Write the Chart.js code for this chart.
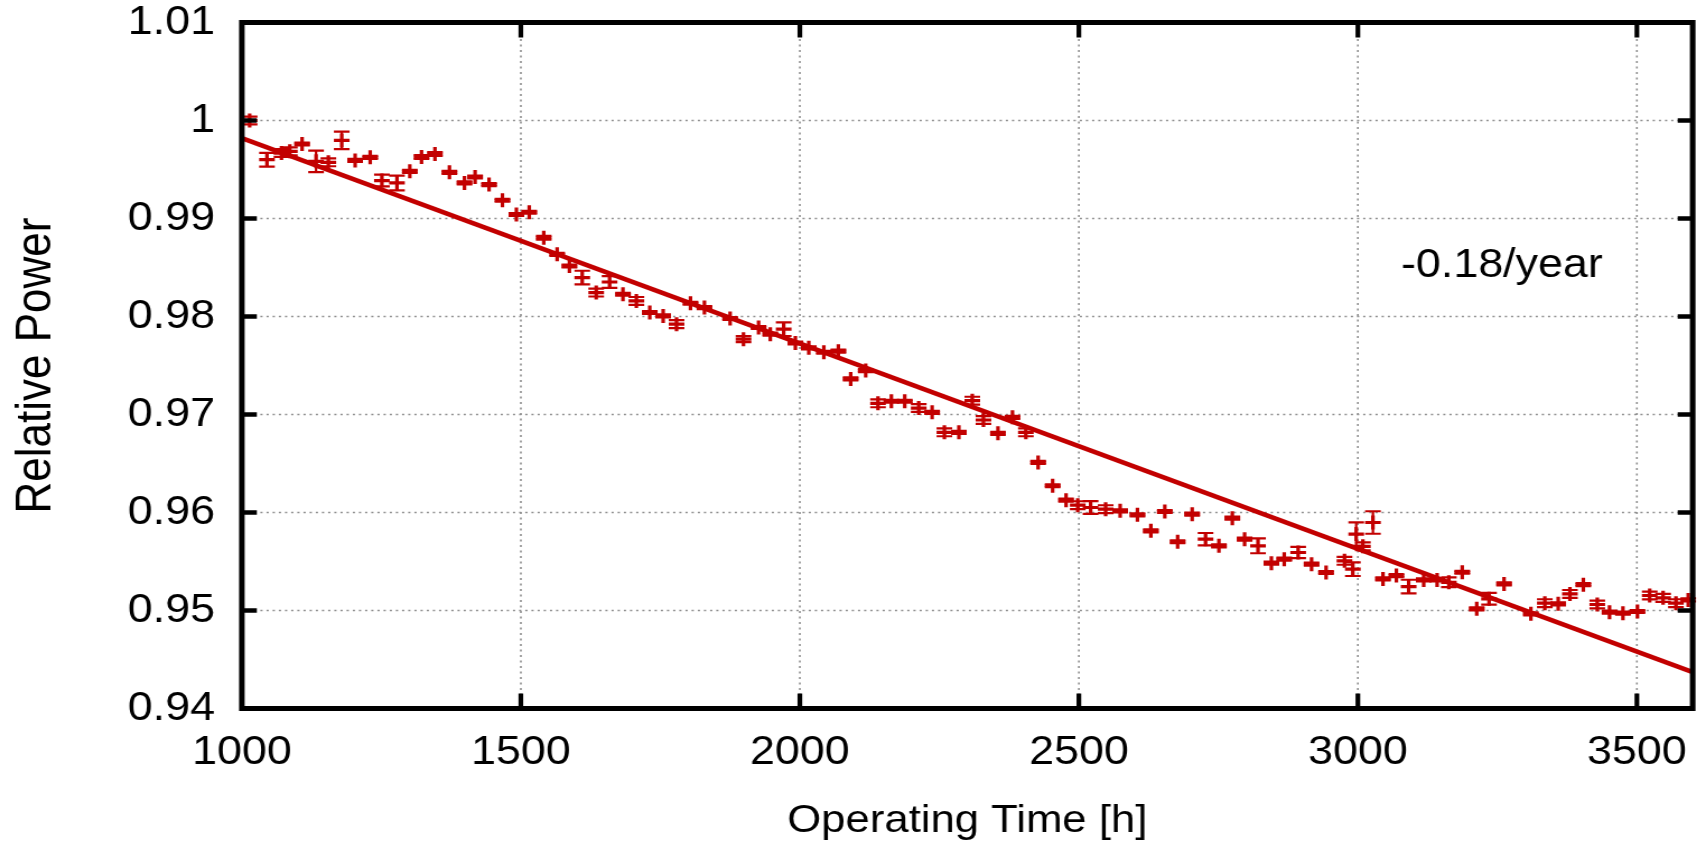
<!DOCTYPE html>
<html><head><meta charset="utf-8">
<script src="https://cdn.jsdelivr.net/npm/chart.js@4.4.1/dist/chart.umd.min.js"></script>
<style>
html,body{margin:0;padding:0;background:#fff;overflow:hidden;}
#wrap{width:1523px;height:846px;transform:scaleX(1.12016);transform-origin:0 0;}
</style></head><body>
<div id="wrap"><canvas id="c" width="1523" height="846"></canvas></div>
<script>
const hours = [1014,1045,1071,1086,1108,1133,1155,1179,1203,1230,1251,1278,1301,1322,1346,1372,1399,1418,1443,1467,1492,1515,1541,1565,1587,1610,1635,1659,1683,1707,1731,1755,1779,1804,1829,1875,1899,1926,1947,1971,1992,2016,2043,2069,2091,2118,2140,2164,2188,2213,2237,2259,2285,2309,2329,2355,2381,2405,2427,2453,2477,2498,2521,2548,2574,2605,2629,2654,2677,2703,2727,2751,2775,2797,2821,2845,2868,2893,2917,2943,2976,2991,2997,3009,3027,3045,3069,3091,3118,3142,3163,3187,3213,3235,3262,3310,3335,3359,3380,3404,3429,3451,3475,3501,3523,3547,3570,3592];
const power = [1.0000,0.9960,0.99668,0.99685,0.9976,0.99583,0.99573,0.99797,0.99593,0.99624,0.99387,0.99363,0.99481,0.99627,0.99658,0.99471,0.99363,0.99424,0.99346,0.99186,0.99041,0.99064,0.98804,0.98634,0.98515,0.98397,0.98244,0.98352,0.98227,0.98159,0.98041,0.98006,0.97922,0.98135,0.98091,0.97980,0.97769,0.97888,0.97820,0.97871,0.97730,0.97680,0.97635,0.97646,0.97363,0.97448,0.97114,0.97135,0.97135,0.97066,0.97022,0.96818,0.96818,0.97141,0.96944,0.96808,0.96971,0.96818,0.96511,0.96273,0.96126,0.96075,0.96051,0.96034,0.96017,0.95976,0.95813,0.96010,0.95701,0.95983,0.95728,0.95660,0.95942,0.95728,0.95660,0.95483,0.95524,0.95592,0.95473,0.95388,0.95507,0.95422,0.9578,0.95655,0.95898,0.95322,0.95356,0.95244,0.95312,0.95312,0.95288,0.95390,0.95017,0.95119,0.95271,0.94966,0.95075,0.95068,0.95169,0.95264,0.95061,0.94983,0.94973,0.94990,0.95153,0.95129,0.95075,0.95108];
const powerErr = [0.0004,0.0007,0.0004,0.0004,0.00015,0.0011,0.0004,0.0009,0.00015,0.00015,0.0006,0.00075,0.00015,0.0002,0.0002,0.00015,0.00015,0.00015,0.00015,0.00015,0.00015,0.00015,0.0002,0.00015,0.00015,0.0007,0.0004,0.0006,0.00015,0.0004,0.00015,0.00015,0.0004,0.00015,0.00015,0.00015,0.0003,0.00015,0.00015,0.0007,0.00015,0.00015,0.00015,0.00015,0.00015,0.00015,0.0004,0.00015,0.00015,0.0004,0.00015,0.0004,0.00015,0.0004,0.0004,0.00015,0.00015,0.0004,0.00015,0.00015,0.00015,0.0004,0.00065,0.0004,0.00015,0.00015,0.00015,0.00015,0.00015,0.00015,0.00063,0.00015,0.00015,0.00015,0.00076,0.00015,0.00015,0.00058,0.00015,0.00015,0.0004,0.0007,0.0012,0.0004,0.00115,0.00015,0.00015,0.0007,0.00015,0.00015,0.0005,0.00015,0.00015,0.0006,0.00015,0.00015,0.0004,0.00015,0.0004,0.00015,0.0004,0.00015,0.00015,0.00015,0.0004,0.0004,0.0004,0.00015];
const fitHours = [1000, 3600];
const fitPower = [0.9982, 0.9437];
const xTickValues = [1000,1500,2000,2500,3000,3500];
const yTickValues = [0.94,0.95,0.96,0.97,0.98,0.99,1.00,1.01];
const yTickLabels = ['0.94','0.95','0.96','0.97','0.98','0.99','1','1.01'];
const xTitle = 'Operating Time [h]';
const yTitle = 'Relative Power';
const slopeLabel = '-0.18/year';

const RED = '#c20000';
const FONT = "'Liberation Sans', Arial, Helvetica, sans-serif";

const decor = {
  id: 'decor',
  beforeDatasetsDraw(chart) {
    const {ctx, chartArea: a, scales: {x, y}} = chart;
    ctx.save();
    ctx.strokeStyle = '#8f8f8f';
    ctx.lineWidth = 1.6;
    ctx.setLineDash([2, 3.5]);
    yTickValues.forEach(v => {
      const py = y.getPixelForValue(v);
      if (py <= a.top + 2 || py >= a.bottom - 2) return;
      ctx.beginPath(); ctx.moveTo(a.left, py); ctx.lineTo(a.right, py); ctx.stroke();
    });
    xTickValues.forEach(v => {
      const px = x.getPixelForValue(v);
      if (px <= a.left + 2 || px >= a.right - 2) return;
      ctx.beginPath(); ctx.moveTo(px, a.top); ctx.lineTo(px, a.bottom); ctx.stroke();
    });
    ctx.setLineDash([]);
    // error bars
    ctx.strokeStyle = RED;
    ctx.lineWidth = 2.2;
    const cap = 7;
    hours.forEach((h, i) => {
      const px = x.getPixelForValue(h);
      const y1 = y.getPixelForValue(power[i] + powerErr[i]);
      const y2 = y.getPixelForValue(power[i] - powerErr[i]);
      ctx.beginPath();
      ctx.moveTo(px, y1); ctx.lineTo(px, y2);
      ctx.moveTo(px - cap, y1); ctx.lineTo(px + cap, y1);
      ctx.moveTo(px - cap, y2); ctx.lineTo(px + cap, y2);
      ctx.stroke();
    });
    ctx.restore();
  },
  afterDraw(chart) {
    const {ctx, chartArea: a, scales: {x, y}} = chart;
    ctx.save();
    // frame
    ctx.strokeStyle = '#000';
    ctx.lineWidth = 5;
    ctx.strokeRect(a.left, a.top, a.right - a.left, a.bottom - a.top);
    // inward tick marks (mirrored)
    ctx.lineWidth = 4.2;
    xTickValues.forEach(v => {
      const px = x.getPixelForValue(v);
      if (px <= a.left + 2 || px >= a.right - 2) return;
      ctx.beginPath();
      ctx.moveTo(px, a.bottom); ctx.lineTo(px, a.bottom - 15);
      ctx.moveTo(px, a.top); ctx.lineTo(px, a.top + 15);
      ctx.stroke();
    });
    ctx.lineWidth = 4.5;
    yTickValues.forEach(v => {
      const py = y.getPixelForValue(v);
      if (py <= a.top + 2 || py >= a.bottom - 2) return;
      ctx.beginPath();
      ctx.moveTo(a.left, py); ctx.lineTo(a.left + 13.4, py);
      ctx.moveTo(a.right, py); ctx.lineTo(a.right - 13.4, py);
      ctx.stroke();
    });
    // titles
    ctx.fillStyle = '#000';
    ctx.font = '39px ' + FONT;
    ctx.textAlign = 'center';
    ctx.textBaseline = 'alphabetic';
    ctx.fillText(xTitle, (a.left + a.right) / 2, 832);
    ctx.save();
    ctx.translate(44.6, (a.top + a.bottom) / 2);
    ctx.rotate(-Math.PI / 2);
    ctx.font = '44px ' + FONT;
    ctx.fillText(yTitle, 0, 0);
    ctx.restore();
    // slope annotation
    ctx.font = '40px ' + FONT;
    ctx.textAlign = 'left';
    ctx.fillText(slopeLabel, 1250.7, 276.6);
    ctx.restore();
  }
};

new Chart(document.getElementById('c'), {
  data: {
    datasets: [
      {
        type: 'line',
        data: fitHours.map((h, i) => ({x: h, y: fitPower[i]})),
        borderColor: RED,
        borderWidth: 4.6,
        pointRadius: 0,
        fill: false,
        tension: 0
      },
      {
        type: 'scatter',
        data: hours.map((h, i) => ({x: h, y: power[i]})),
        pointStyle: 'cross',
        pointRadius: 7,
        pointBorderWidth: 3.2,
        borderColor: RED,
        backgroundColor: RED
      }
    ]
  },
  options: {
    responsive: false,
    animation: false,
    events: [],
    layout: {padding: {left: 0, right: 11.9, top: 22.5, bottom: 0}},
    plugins: {legend: {display: false}, tooltip: {enabled: false}},
    scales: {
      x: {
        type: 'linear',
        min: 1000, max: 3600,
        grid: {display: false, drawTicks: false},
        border: {display: false},
        afterBuildTicks: s => { s.ticks = xTickValues.map(v => ({value: v})); },
        afterFit: s => { s.height = 137.5; s.paddingLeft = 0; s.paddingRight = 0; },
        ticks: {
          autoSkip: false, maxRotation: 0, padding: 20,
          color: '#000',
          font: {family: FONT, size: 40, lineHeight: 1.2},
          callback: v => String(v)
        }
      },
      y: {
        type: 'linear',
        min: 0.94, max: 1.01,
        grid: {display: false, drawTicks: false},
        border: {display: false},
        afterBuildTicks: s => { s.ticks = yTickValues.map(v => ({value: v})); },
        afterFit: s => { s.width = 215.9; s.paddingTop = 0; s.paddingBottom = 0; },
        ticks: {
          autoSkip: false, padding: 24,
          color: '#000',
          font: {family: FONT, size: 40, lineHeight: 1.2},
          callback: (v, i) => yTickLabels[i]
        }
      }
    }
  },
  plugins: [decor]
});
</script>
</body></html>
